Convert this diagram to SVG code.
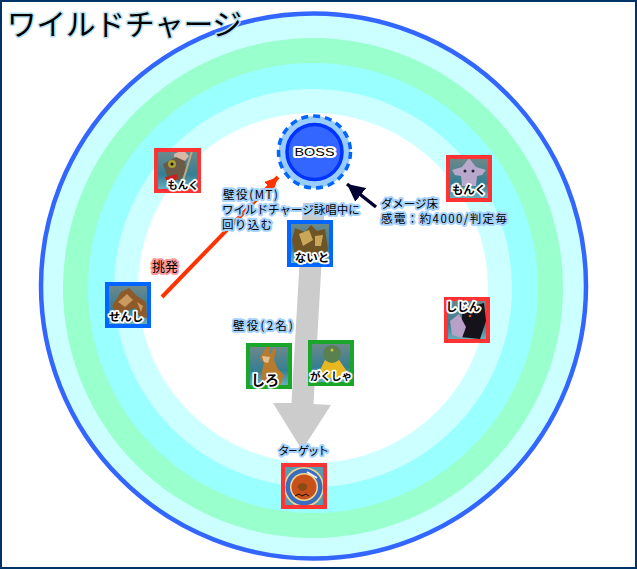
<svg xmlns="http://www.w3.org/2000/svg" width="637" height="569" viewBox="0 0 637 569">
<style>
text{font-family:"Noto Sans CJK JP","Noto Sans",sans-serif;fill:#000;paint-order:stroke;stroke-linejoin:round}
.t{font-size:11.500px;stroke:#a6d2ff;stroke-width:4px}
.n{font-size:11.500px;font-weight:700;stroke:#fff;stroke-width:3.500px;text-anchor:middle}
.f{fill:none;stroke-width:4}
.r{stroke:#ff3333}.b{stroke:#0066ff}.g{stroke:#19a62b}
</style>
<defs>
<linearGradient id="bg" x1="0" y1="0" x2="0" y2="1"><stop offset="0" stop-color="#71898a"/><stop offset=".6" stop-color="#357f92"/><stop offset="1" stop-color="#6fb4c2"/></linearGradient>
<marker id="ar" viewBox="0 0 10 10" refX="10" refY="5" markerWidth="3.300" markerHeight="3.300" orient="auto"><path d="M0 0L10 5L0 10z" fill="#ff3300"/></marker>
<marker id="ad" viewBox="0 0 10 10" refX="10" refY="5" markerWidth="5" markerHeight="5" orient="auto"><path d="M0 0L10 5L0 10z" fill="#000033"/></marker>
</defs>
<rect x="1" y="1" width="635" height="567" fill="#fff" stroke="#003366" stroke-width="2"/>
<g id="field">
<circle cx="313.500" cy="286" r="272.500" fill="#ccffff" stroke="#3366ff" stroke-width="4.500"/>
<circle cx="313" cy="288" r="250" fill="#99ffcc"/>
<circle cx="313" cy="288" r="225" fill="#99ffff"/>
<circle cx="313" cy="288" r="199" fill="#ccffff"/>
<circle cx="313" cy="288" r="175" fill="#fff"/>
</g>
<g id="connectors">
<path d="M303 203L325 203L313.500 404L331 405L302 450L273 403L291.500 403Z" fill="#cccccc"/>
<path d="M162 297L278 177" fill="none" stroke="#ff3300" stroke-width="4" marker-end="url(#ar)"/>
<path d="M376 207L347 184" fill="none" stroke="#000033" stroke-width="3.500" marker-end="url(#ad)"/>
</g>
<g id="boss">
<circle cx="314.500" cy="152" r="36" fill="#99ccff" stroke="#0066ff" stroke-width="3.500" stroke-dasharray="7 5"/>
<circle cx="314.500" cy="152" r="27.500" fill="#3366ff" stroke="#0033ff" stroke-width="3.500"/>
<text x="314.500" y="156" text-anchor="middle" font-size="11" textLength="40" lengthAdjust="spacingAndGlyphs" style="font-family:'Liberation Sans',sans-serif;stroke:#fff;stroke-width:4px">BOSS</text>
</g>
<g id="monk1" transform="translate(154 148)">
<rect x="2" y="2" width="43" height="41" fill="url(#bg)"/>
<path d="M20 6L29 2L35 8L30 14L21 13Z" fill="#d8b8a8"/>
<path d="M9 16L22 9L31 13L32 24L26 33L14 30Z" fill="#6a5a48"/>
<circle cx="18" cy="16" r="4" fill="#a8a030"/><circle cx="18" cy="16" r="1.500" fill="#111"/>
<path d="M11 29L24 26L21 36L13 34Z" fill="#c82020"/>
<path d="M38 3L28 36" stroke="#b8aa88" stroke-width="2" fill="none"/>
<rect x="2" y="2" width="43" height="41" class="f r"/>
<text class="n" x="29" y="41" style="font-size:10.500px">もんく</text>
</g>
<g id="monk2" transform="translate(446 155)">
<rect x="2" y="2" width="42" height="43" fill="url(#bg)"/>
<path d="M23 3L30 12L40 15L36 20L31 21L30 31L16 31L15 21L9 20L6 15L16 12Z" fill="#b8a8cc"/>
<circle cx="19" cy="16" r="1.500" fill="#223"/><circle cx="27" cy="16" r="1.500" fill="#223"/>
<rect x="2" y="2" width="42" height="43" class="f r"/>
<text class="n" x="23" y="39">もんく</text>
</g>
<g id="jijin" transform="translate(444 297)">
<rect x="2" y="2" width="42" height="42" fill="url(#bg)"/>
<path d="M18 12L40 6L42 24L36 42L16 40L18 22Z" fill="#15121a"/>
<path d="M6 24L15 17L22 30L18 41L8 38Z" fill="#b8a0c8"/>
<circle cx="26" cy="19" r="1.300" fill="#e06020"/>
<rect x="2" y="2" width="42" height="42" class="f r"/>
<text class="n" x="19" y="14">しじん</text>
</g>
<g id="naito" transform="translate(287 220)">
<rect x="2" y="2" width="42" height="43" fill="url(#bg)"/>
<path d="M8 8L18 12L24 5L30 11L38 9L41 30L34 36L8 36L5 20Z" fill="#6f5526"/>
<path d="M12 14L22 10L26 20L16 26ZM28 16L36 15L34 26L28 26Z" fill="#c8a858"/>
<rect x="2" y="2" width="42" height="43" class="f b"/>
<text class="n" x="25" y="42">ないと</text>
</g>
<g id="senshi" transform="translate(105 282)">
<rect x="2" y="2" width="42" height="42" fill="url(#bg)"/>
<path d="M7 24L16 10L24 6L32 14L41 20L42 36L34 34L30 26L12 32Z" fill="#8e5a2a"/>
<path d="M13 20L22 12L28 18L20 25ZM32 20L38 24L36 30Z" fill="#c89a60"/>
<rect x="2" y="2" width="42" height="42" class="f b"/>
<text class="n" x="21" y="39">せんし</text>
</g>
<g id="shiro" transform="translate(246 343)">
<rect x="2" y="2" width="42" height="42" fill="url(#bg)"/>
<path d="M20 4L23 4L24 12L28 5L30 6L28 17L32 26L38 32L34 42L16 42L16 28L18 20L14 15Z" fill="#b87a2c"/>
<path d="M16 13L24 14L22 20L18 19Z" fill="#e0c090"/>
<rect x="2" y="2" width="42" height="42" class="f g"/>
<text class="n" x="19" y="42" style="font-size:14px">しろ</text>
</g>
<g id="gakusha" transform="translate(308 340)">
<rect x="2" y="2" width="42" height="42" fill="url(#bg)"/>
<path d="M8 38L17 20L31 20L38 30L44 38Z" fill="#e8b820"/>
<circle cx="24" cy="14" r="9" fill="#5a8050"/>
<circle cx="24" cy="10" r="1.500" fill="#d8c040"/>
<rect x="2" y="2" width="42" height="42" class="f g"/>
<text class="n" x="23" y="40" style="font-size:10.500px">がくしゃ</text>
</g>
<g id="target" transform="translate(281 463)">
<rect x="2" y="2" width="42" height="42" fill="#5a9ab0"/>
<circle cx="23" cy="24" r="20" fill="#f0d890"/>
<circle cx="23" cy="24" r="18.500" fill="#3a6cc0"/>
<circle cx="23" cy="24" r="14" fill="#f0d890"/>
<circle cx="23" cy="24" r="12.500" fill="#c8501a"/>
<path d="M16 24Q20 17 26 22Q27 28 20 28Z" fill="#8a4a14"/>
<path d="M14 33L18 31L21 33L25 31L28 33" fill="none" stroke="#111" stroke-width="1"/>
<path d="M26 9L36 15" stroke="#f4f4f4" stroke-width="2" fill="none"/>
<rect x="2" y="2" width="42" height="42" class="f r"/>
</g>
<g id="labels">
<text x="7" y="35" style="font-size:29.500px;stroke:#b8e0f0;stroke-width:3px">ワイルドチャージ</text>
<text class="t" x="223" y="199" textLength="55">壁役(MT)</text>
<text class="t" x="222" y="214">ワイルドチャージ詠唱中に</text>
<text class="t" x="222" y="229" textLength="50">回り込む</text>
<text class="t" x="381" y="208">ダメージ床</text>
<text class="t" x="381" y="223" textLength="126">感電：約4000/判定毎</text>
<text class="t" x="152" y="271" style="stroke:#ff9999;font-size:13px">挑発</text>
<text class="t" x="233" y="330" textLength="60">壁役(2名)</text>
<text class="t" x="278" y="455" textLength="51">ターゲット</text>
</g>
</svg>
